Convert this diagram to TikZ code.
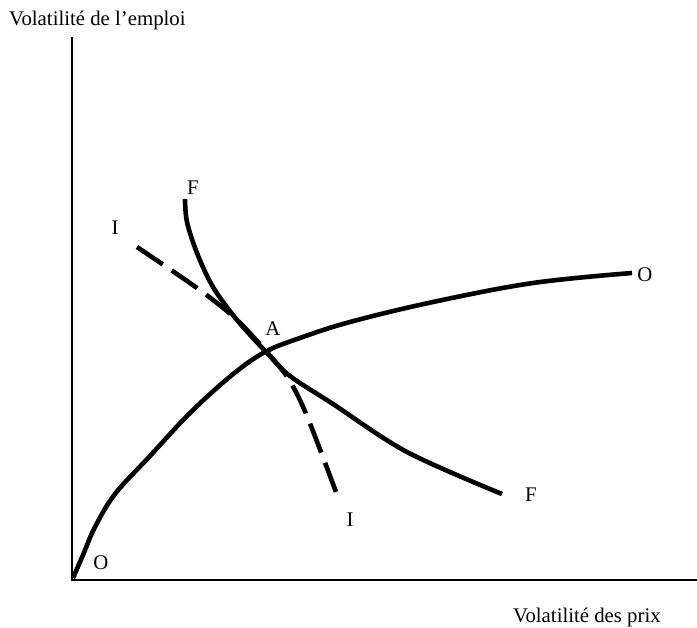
\documentclass[tikz,border=0pt]{standalone}
\usepackage{fontspec}
\setmainfont{Liberation Serif}
\begin{document}
\begin{tikzpicture}[x=1pt,y=-1pt,
  lbl/.style={inner sep=0pt,font=\fontsize{20.8}{24}\selectfont},
  axisline/.style={line width=1.1pt},
  curve/.style={line width=4.6pt},
  dashcurve/.style={line width=4.6pt,dash pattern=on 31pt off 11pt}]
\useasboundingbox (0,0) rectangle (697,628);
% axes
\coordinate (orig) at (72,580);
\coordinate (ytop) at (72,37);
\coordinate (xend) at (697,580);
\draw[axisline] (ytop) -- (orig) -- (xend);
\node[lbl,anchor=base west] (ylab) at (9,26) {Volatilité de l’emploi};
\node[lbl,anchor=base west] (xlab) at (513,623) {Volatilité des prix};
% OO curve
\draw[curve] plot[smooth,tension=0.6] coordinates {(73,578) (83,555) (95,527) (115,494) (150,456) (190,413) (232,375) (265,352) (300,338) (350,322) (433,302) (533,283) (632,273)};
% FF curve
\draw[curve] plot[smooth,tension=0.55] coordinates {(185,199) (187,222) (197,253) (213,287) (237,320) (267,353) (290,376) (333,404) (407,452) (502,494)};
% II dashed
\draw[dashcurve] plot[smooth,tension=0.5] coordinates {(137,247) (197,288) (235,318) (265,350) (288,378) (307,416) (339,500)};
% labels
\node[lbl] (Otop) at (645,275) {O};
\node[lbl] (Obot) at (101,563) {O};
\node[lbl] (Ftop) at (193,188) {F};
\node[lbl] (Fbot) at (531,495) {F};
\node[lbl] (Itop) at (115,228) {I};
\node[lbl] (Ibot) at (350,520) {I};
\node[lbl] (Alab) at (273,329) {A};
\end{tikzpicture}
\end{document}
